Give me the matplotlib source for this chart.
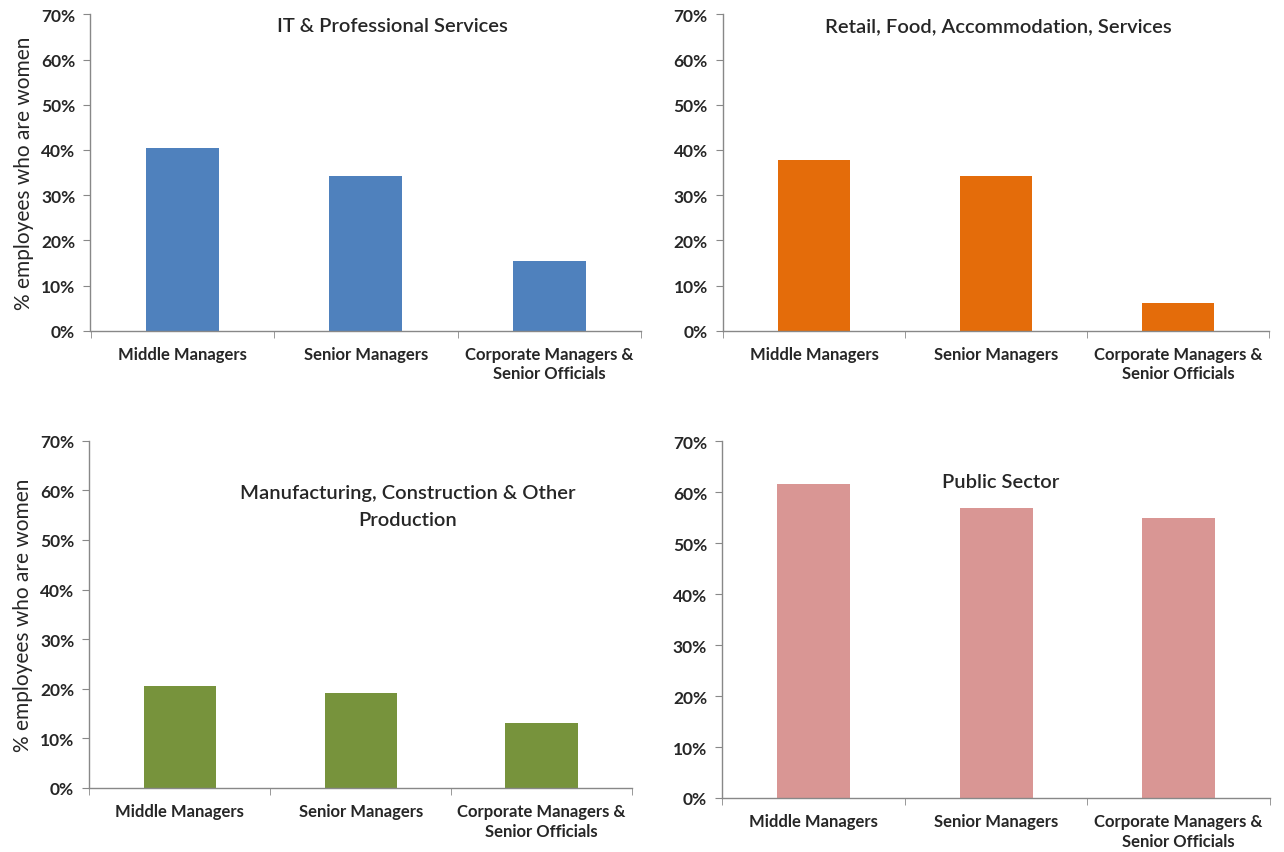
import matplotlib.pyplot as plt
from matplotlib.ticker import PercentFormatter, FixedLocator

plt.rcParams['font.family'] = ['Lato', 'DejaVu Sans']

categories = ['Middle Managers', 'Senior Managers', 'Corporate Managers &\nSenior Officials']

it_services = [40.5, 34.2, 15.5]
retail_food = [37.7, 34.2, 6.1]
manufacturing = [20.6, 19.1, 13.1]
public_sector = [61.7, 57.0, 55.0]

sectors = [
    'IT & Professional Services',
    'Retail, Food, Accommodation, Services',
    'Manufacturing, Construction & Other\nProduction',
    'Public Sector',
]
colors = ['#4F81BD', '#E46C0A', '#77933C', '#D99694']

W, H = 1284, 853
fig = plt.figure(figsize=(W / 100, H / 100), dpi=100)

# axes boxes in pixels: left, right, bottom(0%), top(70%)
boxes = [
    (90.5, 641, 331.7, 15.3),
    (723, 1269, 331.7, 15.3),
    (89.5, 632, 789, 441.7),
    (722.3, 1270, 799, 442.3),
]
# title centre (px) for each panel
title_pos = [(392, 27), (998, 27), (408, 507), (1001, 483)]

for i, (vals, name, col) in enumerate(zip([it_services, retail_food, manufacturing, public_sector], sectors, colors)):
    l, r, b, t = boxes[i]
    ax = fig.add_axes([l / W, 1 - b / H, (r - l) / W, (b - t) / H])
    x = range(len(categories))
    ax.bar(x, vals, width=0.4, color=col)
    ax.set_xlim(-0.5, 2.5)
    ax.set_ylim(0, 70)
    ax.yaxis.set_major_locator(FixedLocator(range(0, 71, 10)))
    ax.yaxis.set_major_formatter(PercentFormatter(decimals=0))
    ax.set_xticks(list(x))
    ax.set_xticklabels(categories, fontsize=12, fontweight='bold', color='#262626',
                       linespacing=1.25)
    ax.set_xticks([-0.5, 0.5, 1.5, 2.5], minor=True)
    ax.tick_params(axis='x', which='major', length=0, pad=11)
    ax.tick_params(axis='x', which='minor', length=5, color='#888888', direction='out')
    ax.tick_params(axis='y', length=5, color='#888888', direction='out', pad=6,
                   labelsize=12.5, labelcolor='#262626')
    for lab in ax.get_yticklabels():
        lab.set_fontweight('bold')
    for s in ['top', 'right']:
        ax.spines[s].set_visible(False)
    for s in ['left', 'bottom']:
        ax.spines[s].set_color('#888888')
        ax.spines[s].set_linewidth(1.0)

    tx, ty = title_pos[i]
    fig.text(tx / W, 1 - ty / H, name, ha='center', va='center', fontsize=14.5,
             fontweight='semibold', color='#262626', linespacing=1.7)

    if i in (0, 2):
        ax.set_ylabel('% employees who are women', fontsize=15, color='#262626', labelpad=5)

fig.savefig('out.png', dpi=100, facecolor='white')
